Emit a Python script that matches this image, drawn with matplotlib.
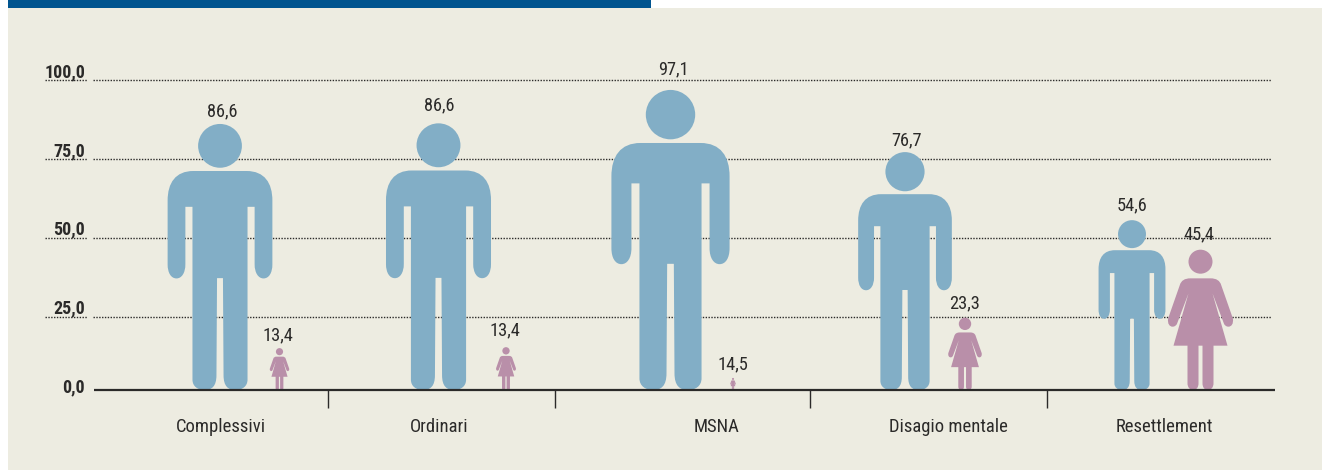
#!/usr/bin/env python3
# Pictogram chart: men and women by reception category
from matplotlib import pyplot as plt
from matplotlib.path import Path
from matplotlib.patches import PathPatch, Ellipse, Rectangle
import logging

logging.getLogger('matplotlib.font_manager').setLevel(logging.ERROR)
plt.rcParams['font.family'] = ['Roboto Condensed', 'Sofia Sans Condensed', 'Asap Condensed', 'Roboto', 'DejaVu Sans']

# Data
categories = ['Complessivi', 'Ordinari', 'MSNA', 'Disagio mentale', 'Resettlement']
men_labels = ['86,6', '86,6', '97,1', '76,7', '54,6']
women_labels = ['13,4', '13,4', '14,5', '23,3', '45,4']
# Drawn heights of the figures (the MSNA woman is drawn far smaller than her label)
men_heights = [86.0, 86.2, 97.0, 76.9, 54.9]
women_heights = [13.5, 13.8, 3.9, 23.3, 45.2]
tick_labels = ['0,0', '25,0', '50,0', '75,0', '100,0']
tick_levels = [0, 23.6, 49.1, 74.6, 100]

# Layout, in picture pixels
W, H = 1322, 470
BASE_PX = 390
PX_PER_UNIT = 3.097
men_x = [220, 438.5, 670.5, 905, 1132]
women_x = [279.5, 506, 733, 965, 1200.5]
men_label_pos = [(222, 111), (439, 105), (673, 69), (906, 140), (1132, 205)]
women_label_pos = [(278, 335), (505, 330), (733, 364), (965, 303), (1199, 234)]
category_x = [220.5, 439, 717, 948.5, 1164]
tick_label_px = [387, 308, 229, 151, 72]
separators_x = [328, 555, 810, 1047]

BLUE = '#82AEC6'
PINK = '#B98FA9'
PANEL = '#EDECE1'
TOPBAR = '#00548F'
TEXT = '#2B2A29'


def val(py):
    # picture row to axis value
    return (BASE_PX - py) / PX_PER_UNIT


# Half outlines, drawn right side only, then mirrored
L, C = Path.LINETO, Path.CURVE4
MAN_H = 900
MAN_HEAD = (0, 825, 74)
man_half = [
    ((0, 740), Path.MOVETO), ((90, 740), L),
    ((150, 740), C), ((177, 700), C), ((177, 640), C),
    ((177, 425), L),
    ((177, 395), C), ((165, 377), C), ((147, 377), C),
    ((130, 377), C), ((117, 395), C), ((117, 425), C),
    ((117, 619), L), ((93, 619), L), ((93, 35), L),
    ((93, 12), C), ((75, 0), C), ((52, 0), C),
    ((28, 0), C), ((12, 12), C), ((12, 50), C),
    ((10, 378), L), ((0, 378), L),
]
WOMAN_H = 420
WOMAN_HEAD = (0, 385, 36)
woman_half = [
    ((0, 335), Path.MOVETO), ((30, 335), L),
    ((48, 335), C), ((58, 328), C), ((62, 315), C),
    ((97, 215), L),
    ((100, 198), C), ((92, 190), C), ((84, 190), C),
    ((76, 190), C), ((72, 195), C), ((70, 200), C),
    ((36, 290), L), ((81, 133), L), ((39, 133), L), ((39, 20), L),
    ((39, 8), C), ((32, 0), C), ((22, 0), C),
    ((12, 0), C), ((6, 8), C), ((6, 20), C),
    ((6, 133), L), ((0, 133), L),
]


def draw_figure(ax, half, head, unit_h, cx, height, color):
    # scale the template so that it stands on 0 and reaches "height"
    sx = height * PX_PER_UNIT / unit_h
    sy = height / unit_h
    pts = [p for p, c in half]
    codes = [c for p, c in half]
    right = [(cx + x * sx, y * sy) for x, y in pts]
    left = [(cx - x * sx, y * sy) for x, y in pts[-2::-1]]
    path = Path(right + left, codes + codes[:0:-1])
    ax.add_patch(PathPatch(path, facecolor=color, edgecolor='none', zorder=3))
    ax.add_patch(Ellipse((cx + head[0] * sx, head[1] * sy), 2 * head[2] * sx, 2 * head[2] * sy,
                         facecolor=color, edgecolor='none', zorder=3))


fig = plt.figure(figsize=(W / 100, H / 100), dpi=100, facecolor='white')
ax = fig.add_axes([0, 0, 1, 1])
ax.set_xlim(0, W)
ax.set_ylim(val(H), val(0))
ax.axis('off')

# Background panel and top bar
ax.add_patch(Rectangle((8, val(H)), W - 8, val(8) - val(H), facecolor=PANEL, edgecolor='none', zorder=0))
ax.add_patch(Rectangle((8, val(8)), 643, val(0) - val(8), facecolor=TOPBAR, edgecolor='none', zorder=0))

# Dotted grid and value labels
dots = (0, (1, 1.05))
for level, label, py in zip(tick_levels, tick_labels, tick_label_px):
    if level > 0:
        ax.plot([45, 87], [level, level], color=TEXT, lw=1.0, ls=dots, zorder=1)
        ax.plot([93, 1271], [level, level], color=TEXT, lw=1.0, ls=dots, zorder=1)
    ax.text(85, val(py), label, ha='right', va='center', fontsize=13,
            fontweight='bold', color=TEXT, zorder=5)

# Baseline and separators
ax.plot([94, 1275], [0, 0], color=TEXT, lw=1.6, zorder=4, solid_capstyle='butt')
for x in separators_x:
    ax.plot([x, x], [0, val(408)], color=TEXT, lw=1.0, zorder=2, solid_capstyle='butt')

# Figures
for i in range(len(categories)):
    draw_figure(ax, man_half, MAN_HEAD, MAN_H, men_x[i], men_heights[i], BLUE)
    draw_figure(ax, woman_half, WOMAN_HEAD, WOMAN_H, women_x[i], women_heights[i], PINK)
    for pos, label in ((men_label_pos[i], men_labels[i]), (women_label_pos[i], women_labels[i])):
        ax.text(pos[0], val(pos[1]), label, ha='center', va='center', fontsize=13.2,
                color=TEXT, zorder=5)
    ax.text(category_x[i], val(427), categories[i], ha='center', va='center', fontsize=13.4,
            color=TEXT, zorder=5)

fig.savefig('out.png', dpi=100, facecolor='white')
